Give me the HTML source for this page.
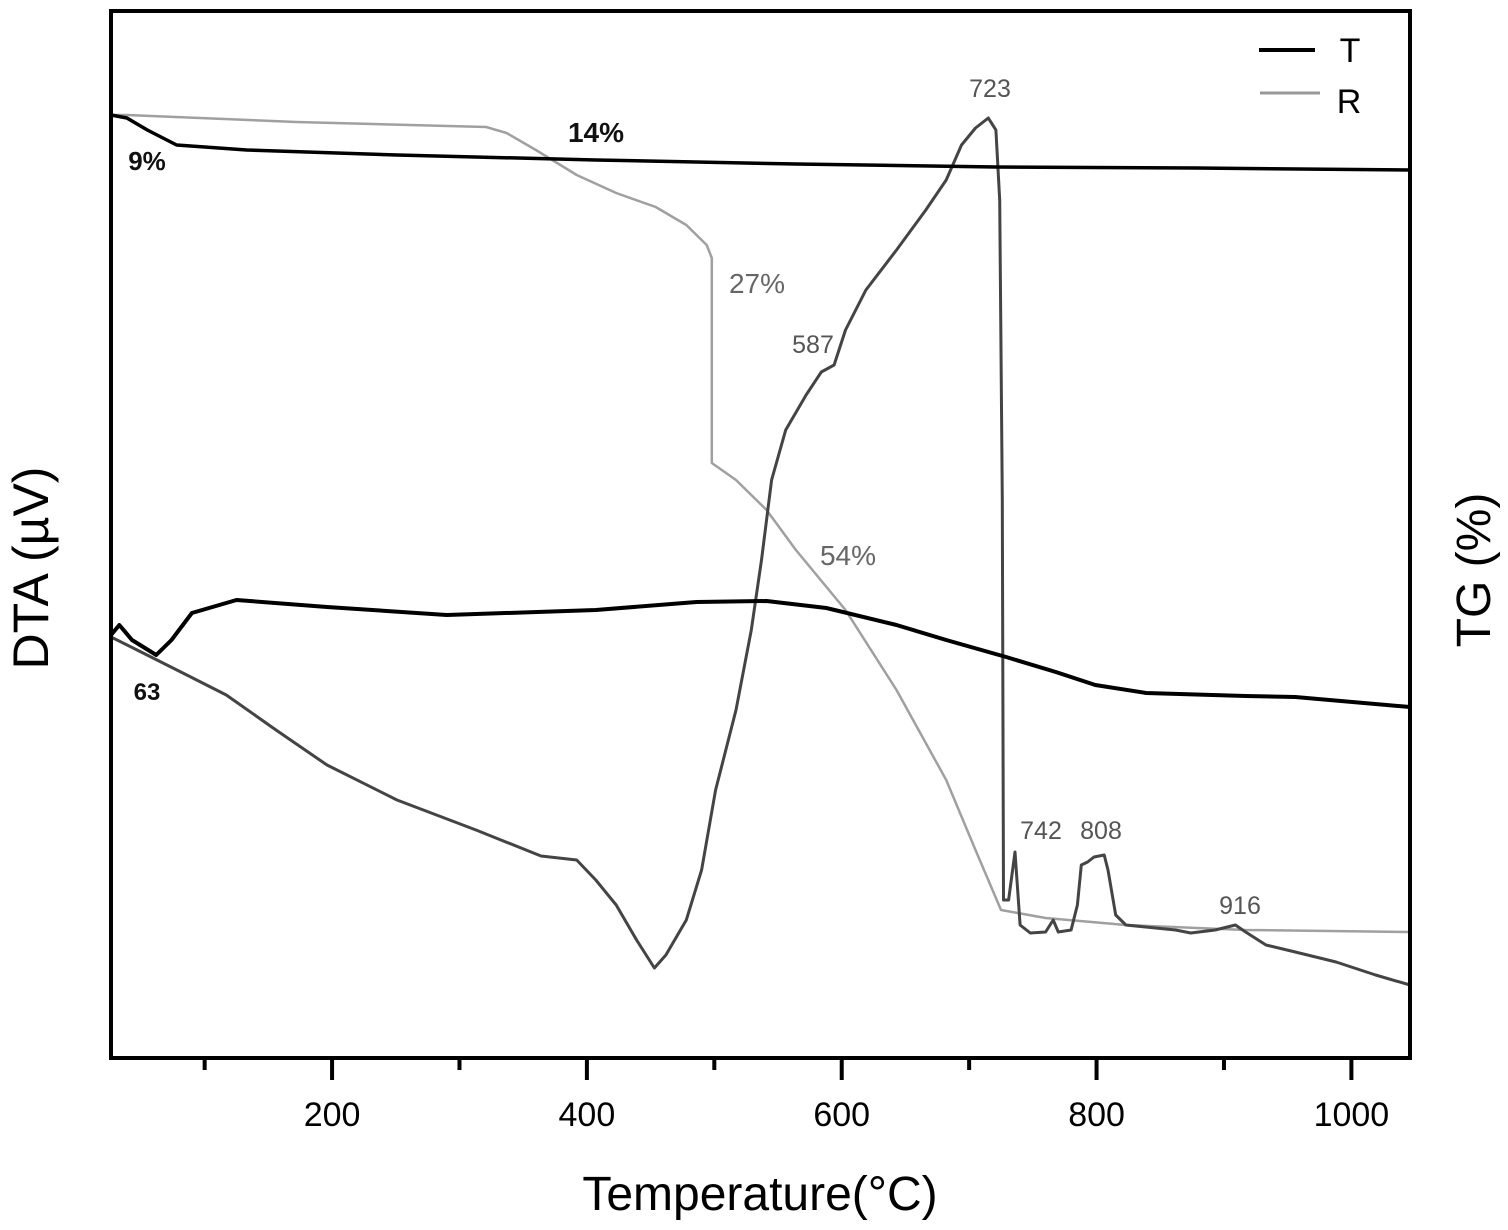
<!DOCTYPE html>
<html><head><meta charset="utf-8"><style>
html,body{margin:0;padding:0;background:#fff;}
svg{display:block;font-family:"Liberation Sans",Arial,sans-serif;}
</style></head><body>
<svg id="chart" width="1508" height="1230" viewBox="0 0 1508 1230" xmlns="http://www.w3.org/2000/svg">
<g id="plot"></g>
<g id="axes"></g>
<g id="ann" font-size="25" fill="#555">
<text x="147" y="170" text-anchor="middle" font-weight="bold" fill="#111" font-size="26">9%</text>
<text x="596" y="142" text-anchor="middle" font-weight="bold" fill="#111" font-size="28">14%</text>
<text x="147" y="700" text-anchor="middle" font-weight="bold" fill="#111" font-size="24">63</text>
<text x="757" y="293" text-anchor="middle" font-size="28" fill="#666">27%</text>
<text x="848" y="565" text-anchor="middle" font-size="28" fill="#666">54%</text>
<text x="813" y="353" text-anchor="middle">587</text>
<text x="990" y="97" text-anchor="middle">723</text>
<text x="1041" y="839" text-anchor="middle">742</text>
<text x="1101" y="839" text-anchor="middle">808</text>
<text x="1240" y="914" text-anchor="middle">916</text>
</g>
<g>
<line x1="1259" y1="50" x2="1315" y2="50" stroke="#000" stroke-width="4"/>
<text x="1350" y="62" font-size="34" text-anchor="middle">T</text>
<line x1="1260" y1="93" x2="1320" y2="93" stroke="#999" stroke-width="3"/>
<text x="1349" y="113" font-size="34" text-anchor="middle">R</text>
</g>
<text transform="translate(48,568) rotate(-90)" font-size="50" text-anchor="middle">DTA (µV)</text>
<text transform="translate(1490,570) rotate(-90)" font-size="48" text-anchor="middle">TG (%)</text>
<text x="760" y="1210" font-size="48" text-anchor="middle">Temperature(°C)</text>
</svg>
<script>
const xTicks = [200, 400, 600, 800, 1000];
const xMinorTicks = [100, 300, 500, 700, 900];
const tTgTemp = [26.5, 39, 55, 78, 133, 251, 407, 564, 721, 878, 1046];
const tTgVal  = [94.3, 94.0, 92.8, 91.3, 90.8, 90.3, 89.8, 89.4, 89.1, 89.0, 88.8];
const rTgTemp = [26.5, 39, 172, 321, 337, 360, 392, 423, 454, 478, 494, 498, 498, 517, 541, 564, 603, 643, 682, 705, 725, 760, 823, 917, 1046];
const rTgVal  = [94.3, 94.3, 93.6, 93.1, 92.5, 90.8, 88.3, 86.5, 85.1, 83.3, 81.3, 80.0, 59.5, 57.8, 54.8, 50.8, 44.8, 36.8, 27.8, 20.8, 14.8, 14.0, 13.3, 12.8, 12.6];
const tDtaTemp = [26.5, 33, 43, 62, 74, 90, 125, 196, 290, 407, 486, 541, 588, 643, 682, 729, 768, 799, 839, 917, 956, 1046];
const tDtaVal  = [42.3, 43.3, 41.8, 40.3, 41.8, 44.5, 45.8, 45.1, 44.3, 44.8, 45.6, 45.7, 45.0, 43.3, 41.8, 40.1, 38.6, 37.3, 36.5, 36.2, 36.1, 35.1];
const rDtaTemp = [26.5, 47, 86, 117, 156, 196, 251, 313, 364, 392, 407, 423, 439, 453, 462, 478, 490, 501, 517, 529, 537, 545, 556, 572, 584, 594, 603, 619, 643, 666, 682, 694, 705, 715, 721, 724, 726, 727, 731, 736, 740, 748, 760, 766, 770, 780, 785, 788, 793, 798, 806, 809, 815, 823, 862, 874, 893, 909, 917, 933, 956, 988, 1019, 1046];
const rDtaVal  = [42.1, 40.8, 38.3, 36.3, 32.8, 29.3, 25.8, 22.8, 20.2, 19.8, 17.8, 15.3, 11.8, 9.0, 10.3, 13.8, 18.8, 26.8, 34.8, 42.8, 49.8, 57.8, 62.8, 66.3, 68.6, 69.3, 72.8, 76.8, 80.8, 84.8, 87.8, 91.3, 93.0, 94.0, 92.8, 85.8, 55.8, 15.8, 15.8, 20.6, 13.3, 12.5, 12.6, 13.8, 12.6, 12.8, 15.3, 19.3, 19.6, 20.1, 20.3, 18.8, 14.3, 13.3, 12.8, 12.5, 12.8, 13.3, 12.6, 11.3, 10.6, 9.6, 8.3, 7.3];

const L = 111, R = 1410, T = 11, B = 1058;
const xMin = 26.5, xMax = 1046;
const yMin = 0, yMax = 104.7;
function xs(t){ return L + (t - xMin) / (xMax - xMin) * (R - L); }
function ys(v){ return B - (v - yMin) / (yMax - yMin) * (B - T); }
const NS = 'http://www.w3.org/2000/svg';
const plot = document.getElementById('plot');
const axes = document.getElementById('axes');
function pathFor(tx, vy){ return tx.map((t,i)=>(i?'L':'M')+xs(t).toFixed(1)+','+ys(vy[i]).toFixed(1)).join(''); }
function addLine(tx, vy, color, w, name){
  const p = document.createElementNS(NS,'path');
  p.setAttribute('d', pathFor(tx, vy));
  p.setAttribute('fill','none');
  p.setAttribute('stroke',color);
  p.setAttribute('stroke-width',w);
  p.setAttribute('stroke-linejoin','round');
  
  
  plot.appendChild(p);
}
addLine(rTgTemp, rTgVal, '#a0a0a0', 2.5, 'r-tg-curve');
addLine(rDtaTemp, rDtaVal, '#444', 3, 'r-dta-curve');
addLine(tTgTemp, tTgVal, '#000', 3.5, 't-tg-curve');
addLine(tDtaTemp, tDtaVal, '#000', 4, 't-dta-curve');

const frame = document.createElementNS(NS,'rect');
frame.setAttribute('x',L); frame.setAttribute('y',T);
frame.setAttribute('width',R-L); frame.setAttribute('height',B-T);
frame.setAttribute('fill','none'); frame.setAttribute('stroke','#000'); frame.setAttribute('stroke-width','4');


axes.appendChild(frame);
xTicks.forEach(t=>{
  const l = document.createElementNS(NS,'line');
  l.setAttribute('x1',xs(t)); l.setAttribute('x2',xs(t)); l.setAttribute('y1',B); l.setAttribute('y2',B+22);
  l.setAttribute('stroke','#000'); l.setAttribute('stroke-width','4');
  
  
  axes.appendChild(l);
  const tx = document.createElementNS(NS,'text');
  tx.setAttribute('x',xs(t)); tx.setAttribute('y',B+68);
  tx.setAttribute('text-anchor','middle'); tx.setAttribute('font-size','34');
  tx.textContent = t;
  
  
  axes.appendChild(tx);
});
xMinorTicks.forEach(t=>{
  const l = document.createElementNS(NS,'line');
  l.setAttribute('x1',xs(t)); l.setAttribute('x2',xs(t)); l.setAttribute('y1',B); l.setAttribute('y2',B+12);
  l.setAttribute('stroke','#000'); l.setAttribute('stroke-width','4');
  
  
  axes.appendChild(l);
});
</script>
</body></html>
